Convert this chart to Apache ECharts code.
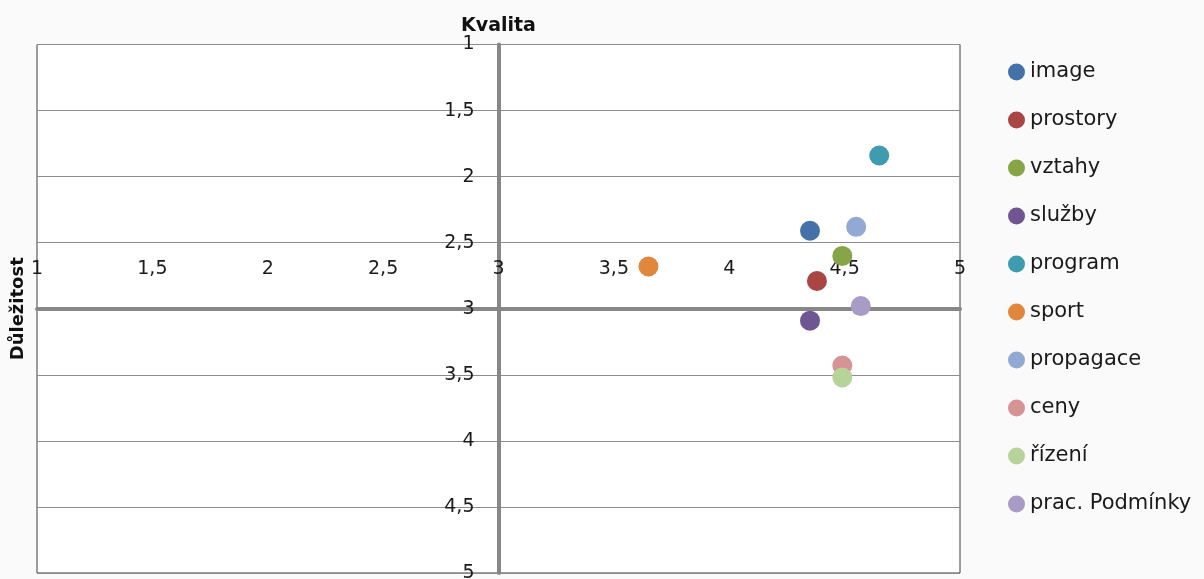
<!DOCTYPE html>
<html>
<head>
<meta charset="utf-8">
<script src="https://cdn.jsdelivr.net/npm/echarts@6/dist/echarts.min.js"></script>
<style>
  html, body { margin: 0; padding: 0; background: #fafafa; }
  #chart { width: 1204px; height: 579px; }
</style>
</head>
<body>
<div id="chart"></div>
<script>
// Categories and their (Důležitost, Kvalita) values
const names = ['image', 'prostory', 'vztahy', 'služby', 'program', 'sport', 'propagace', 'ceny', 'řízení', 'prac. Podmínky'];
const importance = [4.35, 4.38, 4.49, 4.35, 4.65, 3.65, 4.55, 4.49, 4.49, 4.57];
const quality    = [2.41, 2.79, 2.60, 3.09, 1.84, 2.68, 2.38, 3.43, 3.52, 2.98];
const colors = ['#4472a8', '#a94542', '#86a546', '#6f5592', '#3f9bb0', '#e0873c', '#92a9d3', '#d69393', '#b8d39a', '#a89cc6'];

// Both axes run 1..5 in 0.5 steps and cross at 3
const axisMin = 1, axisMax = 5, axisStep = 0.5, crossAt = 3;
const fmt = v => String(v).replace('.', ',');

const font = 'DejaVu Sans, Verdana, sans-serif';

const chart = echarts.init(document.getElementById('chart'), null, { renderer: 'canvas' });

const gridLeft = 37, gridRight = 244, gridTop = 44.5, gridBottom = 6;
const plotW = 1204 - gridLeft - gridRight;
const plotH = 579 - gridTop - gridBottom;
const frac = (crossAt - axisMin) / (axisMax - axisMin);

const series = names.map((n, i) => ({
  name: n,
  type: 'scatter',
  symbolSize: 20,
  itemStyle: { color: colors[i], opacity: 1 },
  data: [[importance[i], quality[i]]],
  z: 5
}));

chart.setOption({
  backgroundColor: '#fafafa',
  animation: false,
  grid: {
    left: gridLeft, right: gridRight, top: gridTop, bottom: gridBottom,
    outerBoundsMode: 'none',
    containLabel: false,
    show: true, backgroundColor: '#ffffff', borderColor: '#3c3c3c', borderWidth: 1
  },
  legend: {
    orient: 'vertical',
    left: 1003, top: 56.5,
    itemWidth: 17, itemHeight: 17, itemGap: 27,
    icon: 'circle',
    textStyle: { fontFamily: font, fontSize: 21, color: '#1a1a1a' },
    data: names
  },
  xAxis: {
    type: 'value',
    min: axisMin, max: axisMax, interval: axisStep,
    position: 'top',
    offset: -(plotH * frac),
    name: 'Důležitost',
    nameLocation: 'start',
    nameRotate: 90,
    nameGap: 19,
    nameTextStyle: { fontFamily: font, fontSize: 18, fontWeight: 'bold', color: '#111', verticalAlign: 'middle', align: 'center' },
    axisLine: { show: true, lineStyle: { color: '#878787', width: 4 } },
    axisTick: { show: false },
    splitLine: { show: false },
    axisLabel: { fontFamily: font, fontSize: 19, color: '#1a1a1a', margin: 30, formatter: fmt }
  },
  yAxis: {
    type: 'value',
    inverse: true,
    min: axisMin, max: axisMax, interval: axisStep,
    position: 'left',
    offset: -(plotW * frac),
    name: 'Kvalita',
    nameLocation: 'start',
    nameGap: 9,
    nameTextStyle: { fontFamily: font, fontSize: 19, fontWeight: 'bold', color: '#111', align: 'center' },
    axisLine: { show: true, lineStyle: { color: '#878787', width: 4 } },
    axisTick: { show: false },
    splitLine: { show: true, lineStyle: { color: '#8c8c8c', width: 1 } },
    axisLabel: { fontFamily: font, fontSize: 19, color: '#1a1a1a', margin: 24, formatter: fmt }
  },
  series: series
});
</script>
</body>
</html>
